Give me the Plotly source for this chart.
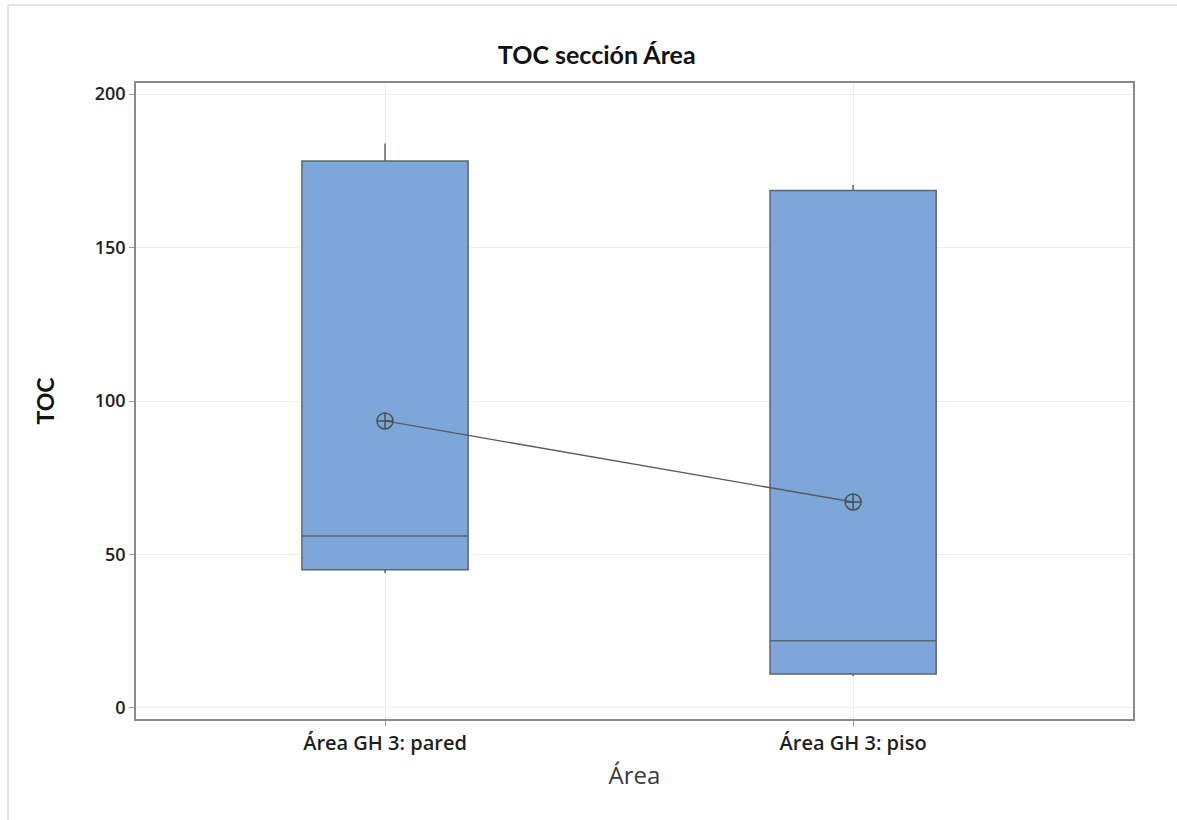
import plotly.graph_objects as go

# Summary statistics of TOC per area (box plot values)
areas = ["Área GH 3: pared", "Área GH 3: piso"]
q1 = [45.0, 11.1]
medians = [56.0, 21.9]
q3 = [178.2, 168.6]
lower_whisker = [44.0, 10.4]
upper_whisker = [183.9, 170.4]
means = [93.5, 67.1]

y_ticks = [0, 50, 100, 150, 200]

fig = go.Figure()

fig.add_trace(go.Box(
    x=areas,
    q1=q1,
    median=medians,
    q3=q3,
    lowerfence=lower_whisker,
    upperfence=upper_whisker,
    boxpoints=False,
    whiskerwidth=0,
    width=0.355,
    fillcolor="#7da7d9",
    line=dict(color="#5b6573", width=1.5),
    showlegend=False,
    hoverinfo="skip",
))

# Mean connect line with circled-cross symbols
fig.add_trace(go.Scatter(
    x=areas,
    y=means,
    mode="lines+markers",
    line=dict(color="#555a60", width=1.3),
    marker=dict(symbol="circle-cross-open", size=16,
                color="#4a4f55", line=dict(width=1.5)),
    showlegend=False,
))

fig.update_layout(
    width=1177,
    height=820,
    margin=dict(l=136, r=44, t=83, b=101),
    paper_bgcolor="white",
    plot_bgcolor="white",
    title=dict(
        text="<b>TOC sección Área</b>",
        x=0.507, xref="container", xanchor="center",
        y=1 - 55 / 820, yref="container", yanchor="middle",
        font=dict(family="Lato", size=25, color="#111111"),
    ),
    xaxis=dict(
        type="category",
        range=[-0.532, 1.598],
        showgrid=True, gridcolor="#eeeeee", gridwidth=1,
        showline=True, linecolor="#8a8a8a", linewidth=1.5, mirror=True,
        ticks="outside", ticklen=5, tickcolor="#9a9a9a",
        tickfont=dict(family="Open Sans", size=20, color="#1e1e1e", weight=600),
        title=dict(text="Área", standoff=12,
                   font=dict(family="Open Sans", size=24, color="#3a3a3a")),
        zeroline=False,
    ),
    yaxis=dict(
        range=[-3.6, 203.6],
        tickvals=y_ticks,
        showgrid=True, gridcolor="#eeeeee", gridwidth=1,
        showline=True, linecolor="#8a8a8a", linewidth=1.5, mirror=True,
        ticks="outside", ticklen=5, tickcolor="#9a9a9a",
        tickfont=dict(family="Open Sans", size=18, color="#1e1e1e", weight=600),
        title=dict(text="<b>TOC</b>", standoff=34,
                   font=dict(family="Lato", size=23, color="#111111")),
        zeroline=False,
    ),
    shapes=[
        # light outer frame along the top and left edges of the canvas
        dict(type="line", xref="paper", yref="paper",
             x0=-0.1284, x1=1.05, y0=1.1226, y1=1.1226,
             line=dict(color="#dcdcdc", width=1.5)),
        dict(type="line", xref="paper", yref="paper",
             x0=-0.1284, x1=-0.1284, y0=-0.17, y1=1.1226,
             line=dict(color="#dcdcdc", width=1.5)),
    ],
)

fig.write_html("out.html")
